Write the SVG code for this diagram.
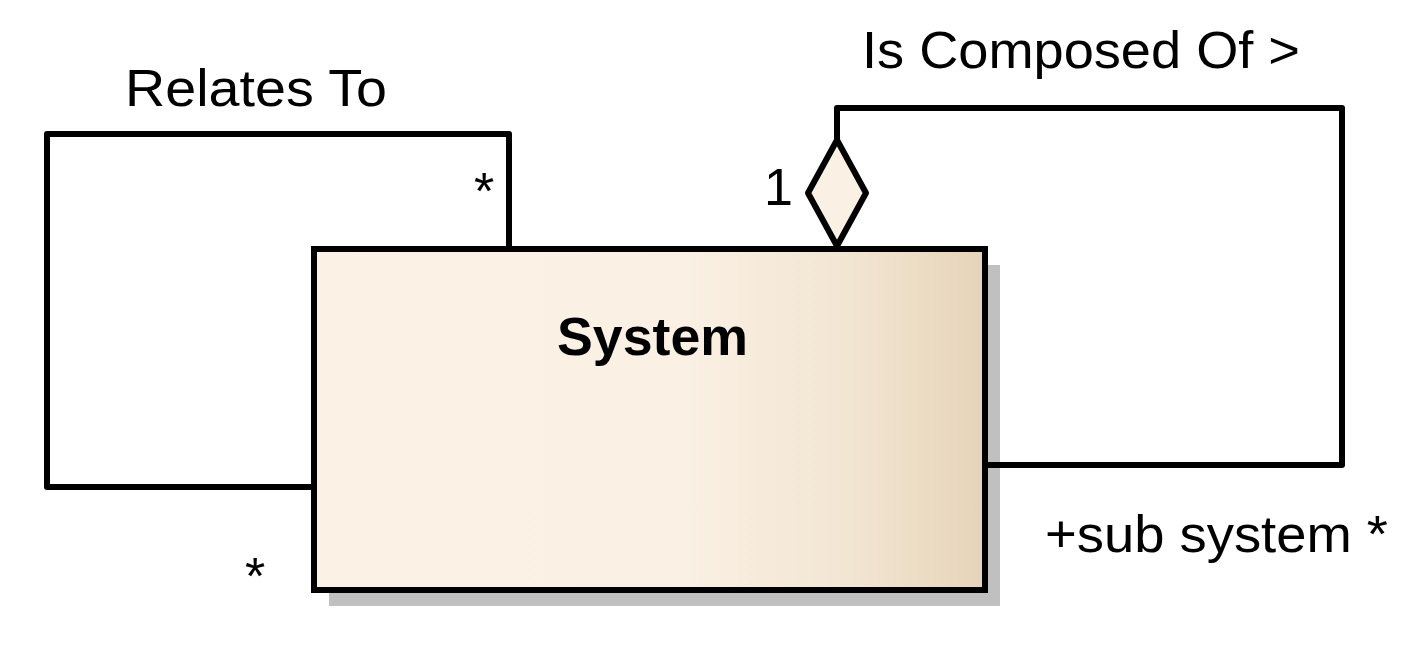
<svg xmlns="http://www.w3.org/2000/svg" width="1417" height="649" viewBox="0 0 1417 649">
<defs>
<linearGradient id="boxGrad" x1="0" y1="0" x2="1" y2="0">
<stop offset="0" stop-color="#fbf1e4"/>
<stop offset="0.55" stop-color="#faf0e3"/>
<stop offset="0.8" stop-color="#f2e5d2"/>
<stop offset="1" stop-color="#e6d4b9"/>
</linearGradient>
<style>
.lbl{font-family:"Liberation Sans",Arial,sans-serif;font-size:52px;fill:#000}
.title{font-family:"Liberation Sans",Arial,sans-serif;font-size:53px;font-weight:bold;fill:#000}
.conn{fill:none;stroke:#000;stroke-width:6;stroke-linejoin:round}
</style>
</defs>
<rect width="1417" height="649" fill="#fff"/>
<g id="system">
<rect x="329" y="265" width="671" height="341" fill="#c0c0c0"/>
<rect x="314" y="249" width="671" height="341" fill="url(#boxGrad)" stroke="#000" stroke-width="6"/>
<text class="title" x="557" y="355" textLength="191" lengthAdjust="spacingAndGlyphs">System</text>
</g>
<g id="connectors">
<polyline class="conn" points="311,487 47,487 47,134 509,134 509,246"/>
<polyline class="conn" points="988,465 1342,465 1342,108 837,108 837,140"/>
<polygon points="837,140 866,193 837,246 808,193" fill="#faf0e3" stroke="#000" stroke-width="6" stroke-linejoin="round"/>
<text class="lbl" x="125" y="106" textLength="262" lengthAdjust="spacingAndGlyphs">Relates To</text>
<text class="lbl" x="474" y="209">*</text>
<text class="lbl" x="245" y="594">*</text>
<text class="lbl" x="862" y="68" textLength="438" lengthAdjust="spacingAndGlyphs">Is Composed Of &gt;</text>
<text class="lbl" x="764" y="205">1</text>
<text class="lbl" x="1045" y="552" textLength="343" lengthAdjust="spacingAndGlyphs">+sub system *</text>
</g>
</svg>
